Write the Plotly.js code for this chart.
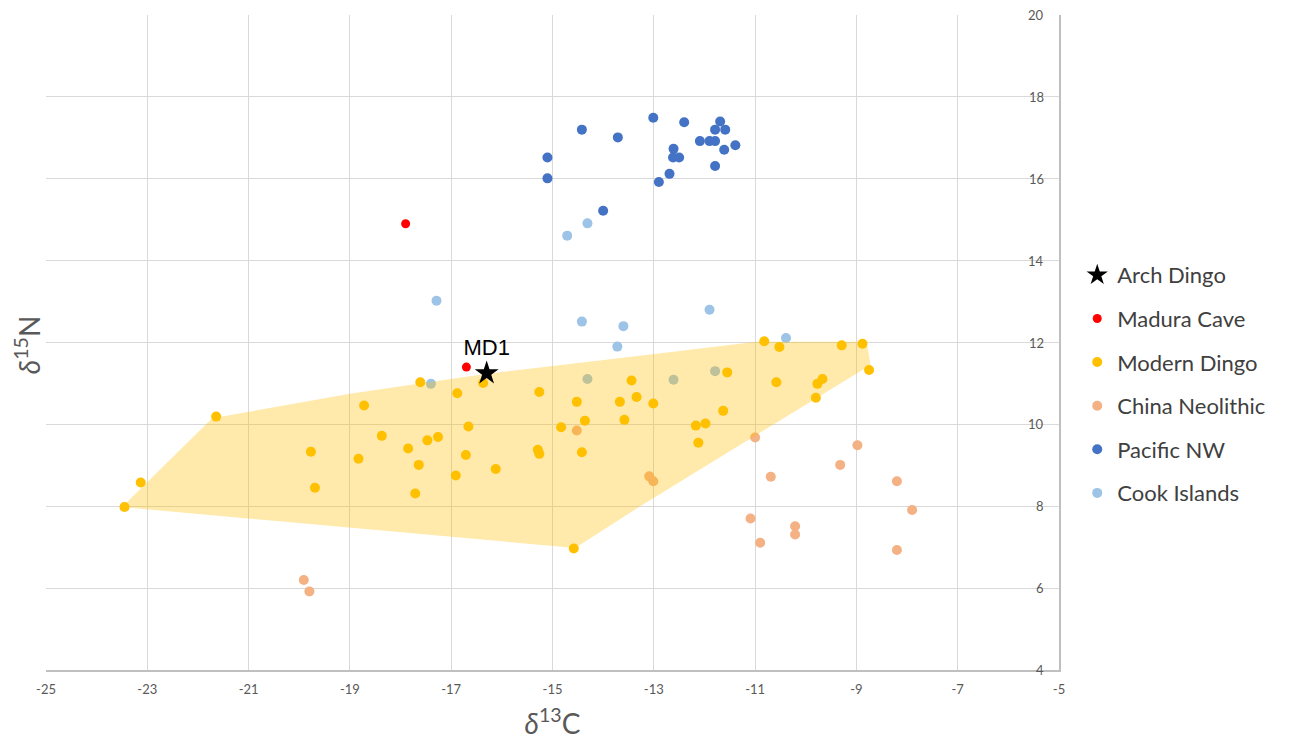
<!DOCTYPE html>
<html>
<head>
<meta charset="utf-8">
<script src="https://cdn.plot.ly/plotly-3.0.1.min.js"></script>
<style>html,body{margin:0;padding:0;background:#fff;}#chart{width:1292px;height:743px;}</style>
</head>
<body>
<div id="chart"></div>
<script>
// ---- Data (δ13C, δ15N) ----
const archDingoX = [-16.3];
const archDingoY = [11.25];
const archDingoLabel = ["MD1"];

const maduraX = [-17.9, -16.7];
const maduraY = [14.9, 11.4];

const modernX = [-23.45, -23.13, -21.64, -19.77, -19.69, -18.83, -18.72, -18.37, -17.85, -17.64,
                 -17.71, -17.61, -17.47, -17.26, -16.91, -16.88, -16.71, -16.66, -16.37, -16.12,
                 -15.26, -15.29, -15.26, -14.83, -14.52, -14.42, -14.36, -14.58, -13.67, -13.58,
                 -13.44, -13.34, -13.01, -12.17, -12.12, -11.98, -11.63, -11.55, -10.82, -10.58,
                 -10.52, -9.80, -9.77, -9.67, -9.29, -8.88, -8.75];
const modernY = [7.98, 8.58, 10.19, 9.33, 8.45, 9.16, 10.46, 9.72, 9.41, 9.01,
                 8.31, 11.03, 9.61, 9.69, 8.75, 10.76, 9.25, 9.95, 11.01, 8.91,
                 10.79, 9.38, 9.28, 9.93, 10.55, 9.32, 10.09, 6.97, 10.55, 10.11,
                 11.07, 10.67, 10.51, 9.97, 9.55, 10.02, 10.33, 11.27, 12.03, 11.03,
                 11.89, 10.65, 10.99, 11.11, 11.93, 11.97, 11.33];

const chinaX = [-19.91, -19.80, -14.52, -13.09, -13.01, -11.0, -11.09, -10.9, -10.69, -10.21,
                -10.21, -9.32, -8.98, -8.2, -7.9, -8.2];
const chinaY = [6.20, 5.92, 9.85, 8.73, 8.61, 9.68, 7.70, 7.11, 8.72, 7.51,
                7.31, 9.01, 9.49, 8.61, 7.91, 6.93];

const pacificX = [-15.1, -15.1, -14.42, -13.71, -13.01, -12.40, -11.69, -11.79, -11.59, -12.09,
                  -11.90, -11.79, -11.39, -11.61, -12.61, -12.62, -12.50, -11.79, -12.69, -12.90,
                  -14.00];
const pacificY = [16.52, 16.01, 17.20, 17.01, 17.49, 17.38, 17.40, 17.20, 17.20, 16.92,
                  16.92, 16.92, 16.82, 16.71, 16.73, 16.52, 16.52, 16.31, 16.12, 15.92,
                  15.22];

const cookX = [-17.29, -14.42, -13.60, -13.72, -17.40, -14.31, -12.61, -11.79, -10.39, -11.90, -14.31, -14.71];
const cookY = [13.02, 12.51, 12.40, 11.90, 10.99, 11.11, 11.09, 11.30, 12.11, 12.80, 14.91, 14.61];

// Modern dingo range polygon
const hullX = [-23.5, -22.55, -21.72, -19.0, -16.4, -12.9, -10.98, -8.8, -8.72, -13.27, -14.55, -23.5];
const hullY = [7.98, 9.15, 10.15, 10.75, 11.22, 11.73, 12.02, 12.02, 11.45, 8.0, 6.98, 7.98];

const xTicks = [-25, -23, -21, -19, -17, -15, -13, -11, -9, -7, -5];
const yTicks = [4, 6, 8, 10, 12, 14, 16, 18, 20];

const labelFont = "Lato, 'Open Sans', sans-serif";
const tickColor = '#595959';

const traces = [
  {x: chinaX, y: chinaY, type: 'scatter', mode: 'markers', name: 'China Neolithic',
   marker: {color: '#F4B183', size: 10}, legendrank: 4, legendgroup: 'd'},
  {x: cookX, y: cookY, type: 'scatter', mode: 'markers', name: 'Cook Islands',
   marker: {color: '#9DC3E6', size: 10}, legendrank: 6, legendgroup: 'f'},
  {x: hullX, y: hullY, type: 'scatter', mode: 'lines', fill: 'toself',
   fillcolor: 'rgba(255,192,0,0.33)', line: {width: 0, color: 'rgba(0,0,0,0)'},
   showlegend: false, hoverinfo: 'skip'},
  {x: modernX, y: modernY, type: 'scatter', mode: 'markers', name: 'Modern Dingo',
   marker: {color: '#FFC000', size: 10}, legendrank: 3, legendgroup: 'c'},
  {x: pacificX, y: pacificY, type: 'scatter', mode: 'markers', name: 'Pacific NW',
   marker: {color: '#4472C4', size: 10}, legendrank: 5, legendgroup: 'e'},
  {x: maduraX, y: maduraY, type: 'scatter', mode: 'markers', name: 'Madura Cave',
   marker: {color: '#FF0000', size: 9}, legendrank: 2, legendgroup: 'b'},
  {x: archDingoX, y: archDingoY, type: 'scatter', mode: 'markers+text', name: 'Arch Dingo',
   text: archDingoLabel, textposition: 'top center',
   textfont: {family: "'Liberation Sans', Arial, sans-serif", size: 22, color: '#000'},
   marker: {color: '#000', size: 18, symbol: 'star'}, legendrank: 1, legendgroup: 'a'}
];

// y tick labels drawn just inside the right-hand axis
const yLabelAnnotations = yTicks.map(v => ({
  text: String(v), xref: 'x', yref: 'y', x: -5, y: v,
  xanchor: 'right', yanchor: 'middle', xshift: -13, showarrow: false,
  font: {family: labelFont, size: 13, color: tickColor}
}));

const layout = {
  width: 1292, height: 743,
  margin: {l: 46, r: 233, t: 15, b: 73, pad: 0},
  paper_bgcolor: '#fff', plot_bgcolor: '#fff',
  showlegend: true,
  legend: {x: 1.018, xanchor: 'left', y: 0.635, yanchor: 'top',
           font: {family: labelFont, size: 22, color: '#404040'},
           traceorder: 'grouped', tracegroupgap: 12, itemsizing: 'trace'},
  xaxis: {
    range: [-25, -5], tickvals: xTicks, ticktext: xTicks.map(String),
    showgrid: true, gridcolor: '#D9D9D9', gridwidth: 1,
    zeroline: false, showline: true, linecolor: '#BFBFBF', linewidth: 1.5,
    ticks: '', ticklabelstandoff: 7, tickfont: {family: labelFont, size: 13, color: tickColor},
    automargin: false,
    title: {text: '<i>δ</i><sup>13</sup>C', font: {family: labelFont, size: 28, color: tickColor}, standoff: 18}
  },
  yaxis: {
    range: [4, 20], tickvals: yTicks,
    side: 'right', showticklabels: false,
    showgrid: true, gridcolor: '#D9D9D9', gridwidth: 1,
    zeroline: false, showline: true, linecolor: '#BFBFBF', linewidth: 1.5,
    ticks: '', automargin: false
  },
  annotations: [{
    text: '<i>δ</i><sup>15</sup>N', xref: 'paper', yref: 'paper',
    x: -0.018, y: 0.497, xanchor: 'center', yanchor: 'middle', textangle: -90,
    showarrow: false, font: {family: labelFont, size: 28, color: tickColor}
  }].concat(yLabelAnnotations)
};

Plotly.newPlot('chart', traces, layout, {displayModeBar: false, responsive: false});
</script>
</body>
</html>
